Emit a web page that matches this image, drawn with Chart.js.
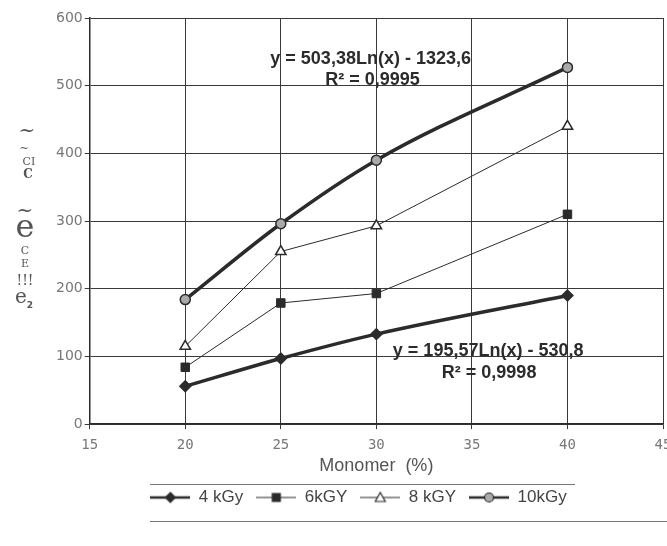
<!DOCTYPE html>
<html>
<head>
<meta charset="utf-8">
<script src="https://cdn.jsdelivr.net/npm/chart.js@4"></script>
<style>
  html, body { margin: 0; padding: 0; background: #fff; overflow: hidden; }
  #wrap { width: 690px; height: 546px; }
</style>
</head>
<body>
<div id="wrap"><canvas id="chart" width="690" height="546"></canvas></div>
<script>
// dane
const monomer = [20, 25, 30, 40];
const dose4 = [56, 97, 133, 190];
const dose6 = [84, 179, 193, 310];
const dose8 = [115, 255, 293, 440];
const dose10 = [184, 296, 390, 527];

const seriesLabels = ['4 kGy', '6kGY', '8 kGY', '10kGy'];
const xTicks = [15, 20, 25, 30, 35, 40, 45];
const yTicks = [0, 100, 200, 300, 400, 500, 600];

const eqUpper = ['y = 503,38Ln(x) - 1323,6', 'R² = 0,9995'];
const eqLower = ['y = 195,57Ln(x) - 530,8', 'R² = 0,9998'];

const INK = '#2b2b2b';

function points(ys) {
    return monomer.map((x, i) => ({ x, y: ys[i] }));
}

// ikonka legendy w stylu Excela: kreska + znacznik
function legendIcon(ds) {
    const c = document.createElement('canvas');
    c.width = 40;
    c.height = 14;
    const g = c.getContext('2d');
    g.strokeStyle = INK;
    g.lineWidth = Math.min(ds.borderWidth, 2.5);
    g.beginPath();
    g.moveTo(0, 7);
    g.lineTo(40, 7);
    g.stroke();
    g.fillStyle = ds.pointBackgroundColor;
    g.lineWidth = 1.2;
    g.beginPath();
    if (ds.pointStyle === 'rectRot') {
        g.moveTo(20, 2); g.lineTo(25, 7); g.lineTo(20, 12); g.lineTo(15, 7);
    } else if (ds.pointStyle === 'rect') {
        g.rect(16, 3, 8, 8);
    } else if (ds.pointStyle === 'triangle') {
        g.moveTo(20, 2); g.lineTo(25, 11); g.lineTo(15, 11);
    } else {
        g.arc(20, 7, 4.5, 0, Math.PI * 2);
    }
    g.closePath();
    g.fill();
    g.stroke();
    return c;
}

// napisy z równaniami trendu + zniekształcony opis osi Y
const notesPlugin = {
    id: 'notes',
    afterDatasetsDraw(chart) {
        const { ctx, scales: { x, y } } = chart;
        ctx.save();
        ctx.fillStyle = INK;
        ctx.font = 'bold 18px "Liberation Sans", Arial, sans-serif';
        ctx.textAlign = 'center';
        ctx.textBaseline = 'middle';
        ctx.fillText(eqUpper[0], x.getPixelForValue(29.7), y.getPixelForValue(540));
        ctx.fillText(eqUpper[1], x.getPixelForValue(29.8), y.getPixelForValue(509));
        ctx.fillText(eqLower[0], x.getPixelForValue(35.85), y.getPixelForValue(108));
        ctx.fillText(eqLower[1], x.getPixelForValue(35.9), y.getPixelForValue(75));

        ctx.fillStyle = '#555';
        ctx.font = '20px "DejaVu Serif", serif';
        ctx.fillText('~', 27, 132);
        ctx.font = '11px "DejaVu Serif", serif';
        ctx.fillText('~', 24, 149);
        ctx.fillText('CI', 29, 162);
        ctx.font = 'bold 12px "DejaVu Serif", serif';
        ctx.fillText('C', 28, 175);
        ctx.font = '20px "DejaVu Serif", serif';
        ctx.fillText('~', 25, 212);
        ctx.font = '32px "DejaVu Serif", serif';
        ctx.fillText('e', 25, 229);
        ctx.font = '11px "DejaVu Serif", serif';
        ctx.fillText('C', 25, 251);
        ctx.fillText('E', 25, 264);
        ctx.font = '14px "DejaVu Serif", serif';
        ctx.fillText('!!!', 25, 281);
        ctx.font = '20px "DejaVu Serif", serif';
        ctx.fillText('e', 21, 298);
        ctx.font = 'bold 9px "DejaVu Sans", sans-serif';
        ctx.fillText('2', 30, 306);
        ctx.restore();
    },
    afterDraw(chart) {
        const lg = chart.legend;
        if (!lg || !lg.legendHitBoxes.length) return;
        const mid = lg.legendHitBoxes[0].top + lg.legendHitBoxes[0].height / 2;
        const { ctx } = chart;
        ctx.save();
        ctx.strokeStyle = '#777';
        ctx.lineWidth = 1;
        ctx.beginPath();
        ctx.moveTo(150, Math.round(mid - 14) + 0.5);
        ctx.lineTo(575, Math.round(mid - 14) + 0.5);
        ctx.moveTo(150, Math.round(mid + 23) + 0.5);
        ctx.lineTo(668, Math.round(mid + 23) + 0.5);
        ctx.stroke();
        ctx.restore();
    },
};

new Chart(document.getElementById('chart'), {
    type: 'line',
    data: {
        datasets: [
            {
                label: seriesLabels[0],
                data: points(dose4),
                borderColor: INK,
                borderWidth: 3.5,
                cubicInterpolationMode: 'monotone',
                pointStyle: 'rectRot',
                pointRadius: 4,
                pointBackgroundColor: INK,
                pointBorderColor: INK,
            },
            {
                label: seriesLabels[1],
                data: points(dose6),
                borderColor: INK,
                borderWidth: 1,
                tension: 0,
                pointStyle: 'rect',
                pointRadius: 6,
                pointBackgroundColor: INK,
                pointBorderColor: INK,
            },
            {
                label: seriesLabels[2],
                data: points(dose8),
                borderColor: INK,
                borderWidth: 1,
                tension: 0,
                pointStyle: 'triangle',
                pointRadius: 6,
                pointBackgroundColor: '#fff',
                pointBorderColor: INK,
                pointBorderWidth: 1.5,
            },
            {
                label: seriesLabels[3],
                data: points(dose10),
                borderColor: INK,
                borderWidth: 3.5,
                cubicInterpolationMode: 'monotone',
                pointStyle: 'circle',
                pointRadius: 5,
                pointBackgroundColor: '#aaa',
                pointBorderColor: INK,
                pointBorderWidth: 1.5,
            },
        ],
    },
    options: {
        responsive: false,
        animation: false,
        layout: { padding: { top: 18, left: 54, right: 27, bottom: 30 } },
        scales: {
            x: {
                type: 'linear',
                min: 15,
                max: 45,
                afterBuildTicks: (s) => { s.ticks = xTicks.map((v) => ({ value: v })); },
                ticks: {
                    color: '#777',
                    font: { family: '"DejaVu Sans Mono", monospace', size: 14, lineHeight: 0.86 },
                    padding: 10,
                },
                grid: { color: '#3a3a3a', lineWidth: 1, tickLength: 5 },
                border: { color: INK, width: 1.5 },
                title: {
                    display: true,
                    text: 'Monomer  (%)',
                    color: '#555',
                    font: { family: '"Liberation Sans", Arial, sans-serif', size: 18, lineHeight: 1.1 },
                    padding: { top: -5, bottom: 0 },
                },
            },
            y: {
                min: 0,
                max: 600,
                afterBuildTicks: (s) => { s.ticks = yTicks.map((v) => ({ value: v })); },
                ticks: {
                    color: '#777',
                    font: { family: '"DejaVu Sans", sans-serif', size: 14 },
                    padding: 2,
                },
                grid: { color: '#3a3a3a', lineWidth: 1, tickLength: 5 },
                border: { color: INK, width: 1.5 },
            },
        },
        plugins: {
            legend: {
                position: 'bottom',
                align: 'center',
                labels: {
                    color: '#444',
                    font: { family: '"Liberation Sans", Arial, sans-serif', size: 17 },
                    usePointStyle: true,
                    pointStyleWidth: 40,
                    padding: 13,
                    generateLabels(chart) {
                        const items = Chart.defaults.plugins.legend.labels.generateLabels(chart);
                        items.forEach((it) => {
                            it.pointStyle = legendIcon(chart.data.datasets[it.datasetIndex]);
                        });
                        return items;
                    },
                },
            },
            tooltip: { enabled: false },
        },
    },
    plugins: [notesPlugin],
});
</script>
</body>
</html>
